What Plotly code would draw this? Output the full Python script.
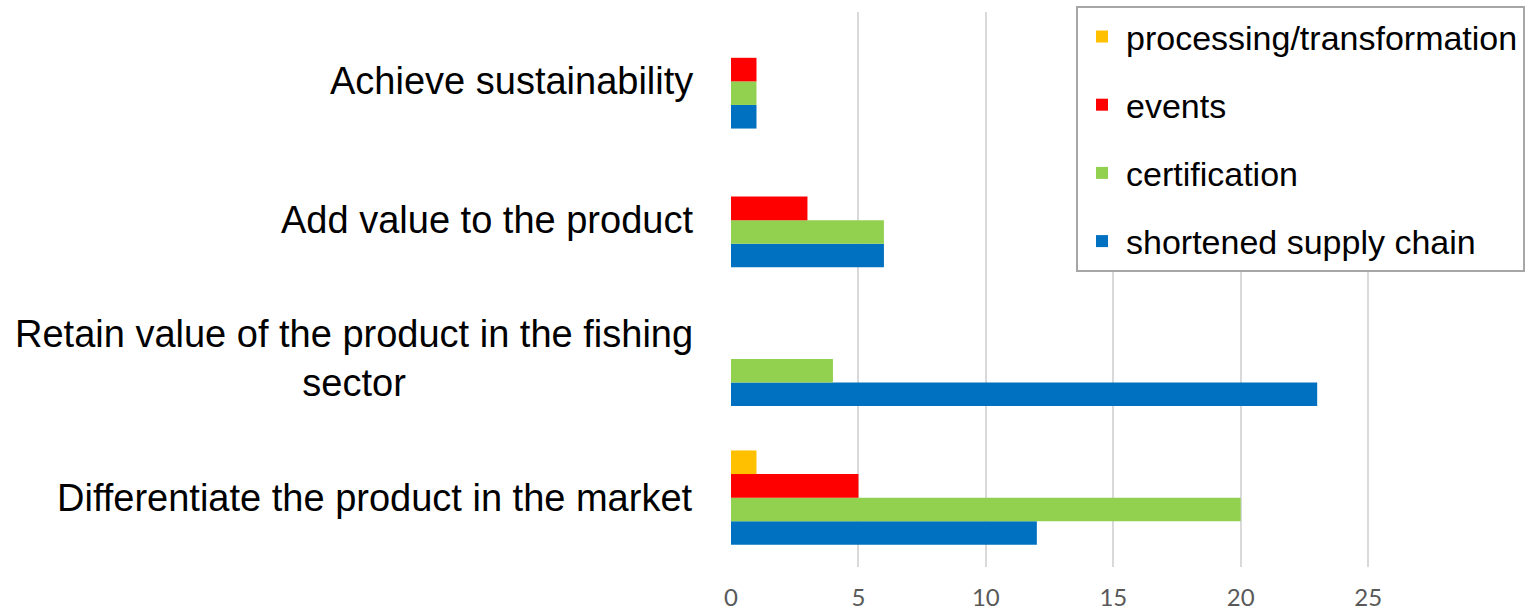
import plotly.graph_objects as go

categories = [
    "Differentiate the product in the market",
    "Retain value of the product in the fishing<br>sector",
    "Add value to the product",
    "Achieve sustainability",
]
shortened_supply_chain = [12, 23, 6, 1]
certification = [20, 4, 6, 1]
events = [5, 0, 3, 1]
processing_transformation = [1, 0, 0, 0]

series = [
    ("shortened supply chain", shortened_supply_chain, "#0070C0", 4),
    ("certification", certification, "#92D050", 3),
    ("events", events, "#FF0000", 2),
    ("processing/transformation", processing_transformation, "#FFC000", 1),
]
x_ticks = [0, 5, 10, 15, 20, 25]

fig = go.Figure()
for name, vals, color, rank in series:
    fig.add_trace(go.Bar(
        y=categories, x=vals, name=name, orientation="h",
        marker=dict(color=color, line=dict(width=0)),
        legendgroup=name, legendrank=rank,
    ))

for cat in categories:
    fig.add_annotation(
        x=0, xref="paper", y=cat, yref="y", text=cat,
        xanchor="right", yanchor="middle", align="center", xshift=-36,
        showarrow=False,
        font=dict(family="Liberation Sans, Arial", size=38, color="#000000"),
    )

fig.update_layout(
    width=1530, height=611,
    margin=dict(l=731, r=0, t=12, b=44, autoexpand=False),
    paper_bgcolor="white", plot_bgcolor="white",
    barmode="group", bargap=0.32, bargroupgap=0,
    showlegend=True,
    legend=dict(
        x=(1076 - 731) / (1530 - 731), xanchor="left",
        y=1.011, yanchor="top",
        traceorder="grouped", tracegroupgap=21, itemwidth=38,
        bgcolor="white", bordercolor="#A6A6A6", borderwidth=2,
        font=dict(family="Liberation Sans, Arial", size=34, color="#000000"),
    ),
    xaxis=dict(
        range=[0, 31.35], tickvals=x_ticks, ticktext=[str(v) for v in x_ticks],
        showgrid=True, gridcolor="#D9D9D9", gridwidth=2,
        zeroline=False, showline=False, automargin=False,
        ticks="outside", ticklen=9, tickcolor="rgba(0,0,0,0)",
        tickfont=dict(family="Lato, Open Sans", size=24, color="#595959"),
    ),
    yaxis=dict(
        showticklabels=False, showgrid=False, zeroline=False, showline=False,
        automargin=False,
    ),
)

fig.write_html("out.html", config={"displayModeBar": False},
               post_script="document.body.style.margin='0';")
